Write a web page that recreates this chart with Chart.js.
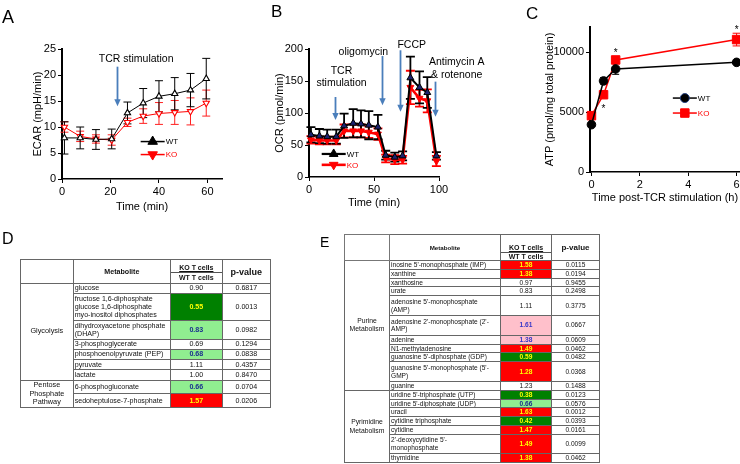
<!DOCTYPE html>
<html><head><meta charset="utf-8">
<script src="https://cdn.jsdelivr.net/npm/chart.js@4.4.1/dist/chart.umd.min.js"></script>
<style>
html,body{margin:0;padding:0;background:#fff;}
body{width:740px;height:464px;overflow:hidden;position:relative;font-family:'Liberation Sans',Arial,Helvetica,sans-serif;color:#000;}
canvas{position:absolute;top:0;}
.lbl{position:absolute;line-height:1;color:#000;will-change:transform;}
table{position:absolute;border-collapse:collapse;table-layout:fixed;color:#111;will-change:transform;background:transparent;}
td,th{overflow:hidden;box-sizing:border-box;}
.nm{white-space:pre-line;text-align:left;}
.grp{white-space:pre-line;text-align:center;vertical-align:middle;}
.val,.pv{text-align:center;vertical-align:middle;}
.hl{font-weight:bold;}
th{font-weight:bold;text-align:center;vertical-align:middle;padding:0;}
.ko{display:flex;align-items:flex-end;justify-content:center;border-bottom:1px solid #555;}
.ko span{text-decoration:underline;}
.wt{text-align:center;}
#tD{left:20px;top:259px;width:250px;font-size:7.1px;border:1.5px solid #333;}
#tD td{border:1px solid #666;padding:0.4px 1px;line-height:8.4px;}
#tD th{border:1px solid #666;height:23px;}
#tD th.mh{font-size:7.1px;}
#tD th.ph{font-size:9px;}
#tD .ko{height:12px;font-size:7px;line-height:8px;}
#tD .wt{height:10px;font-size:7px;line-height:10px;}
#tD .grp{font-size:7.3px;line-height:8.6px;}
#tE{left:344px;top:234px;width:255px;font-size:6.6px;border:1.5px solid #333;}
#tE td{border:1px solid #666;padding:0 1px;line-height:7.8px;}
#tE tr.dbl td.nm,#tE tr.dbl td.val,#tE tr.dbl td.pv{padding:1.6px 1px;}
#tE th{border:1px solid #666;height:25px;}
#tE th.corner{border:1.6px solid #777;}
#tE th.mh{font-size:6.2px;}
#tE th.ph{font-size:8px;}
#tE .ko{height:17px;font-size:7px;line-height:8px;}
#tE .wt{height:7px;font-size:7px;line-height:7px;}
#tE .grp{font-size:6.8px;line-height:8.2px;}
</style></head>
<body>
<div class="lbl" style="left:2px;top:8px;font-size:18px">A</div>
<div class="lbl" style="left:271px;top:3px;font-size:17px">B</div>
<div class="lbl" style="left:526px;top:5px;font-size:17px">C</div>
<div class="lbl" style="left:2px;top:231px;font-size:16px">D</div>
<div class="lbl" style="left:320px;top:235px;font-size:14px">E</div>
<canvas id="cA" width="240" height="225" style="left:0"></canvas>
<canvas id="cB" width="260" height="225" style="left:240px"></canvas>
<canvas id="cC" width="270" height="225" style="left:480px"></canvas>
<table id="tD"></table>
<table id="tE"></table>
<script>
// ---------- Panel A data (ECAR) ----------
const seriesNames = ['WT', 'KO'];
const timeA = [1, 7.5, 14, 20.5, 27, 33.5, 40, 46.5, 53, 59.5];
const wtA = [7.9, 7.9, 7.6, 7.7, 12.7, 14.6, 15.9, 16.4, 17.1, 19.3];
const wtErrA = [3.1, 2.1, 1.9, 1.9, 2.1, 2.8, 3.0, 3.1, 3.2, 3.9];
const koA = [10.0, 8.2, 7.7, 7.5, 10.9, 12.1, 12.6, 12.8, 13.0, 14.6];
const koErrA = [1.0, 1.0, 0.8, 1.0, 0.8, 1.4, 2.1, 2.3, 2.6, 2.5];
const xTicksA = [0, 20, 40, 60];
const yTicksA = [0, 5, 10, 15, 20, 25];
const eventLabelsA = [['TCR stimulation']];
const eventTimesA = [22.8];

// ---------- Panel B data (OCR) ----------
const timeB = [1.5, 8, 14, 21, 27, 34, 40, 46, 53, 59, 66, 72, 78, 85, 91, 98];
const wtB = [66, 64, 63, 63, 80, 84, 83, 81, 78, 34, 31, 33, 155, 140, 132, 33];
const wtErrB = [12, 11, 11, 11, 19, 22, 21, 22, 19, 7, 7, 7, 33, 25, 24, 6];
const koB = [58, 57, 57, 57, 72, 72, 72, 70, 67, 29, 27, 27, 140, 123, 119, 25];
const koErrB = [6, 6, 6, 6, 10, 10, 10, 9, 9, 6, 7, 6, 26, 13, 18, 8];
const xTicksB = [0, 50, 100];
const yTicksB = [0, 50, 100, 150, 200];
const eventLabelsB = [['TCR', 'stimulation'], ['oligomycin'], ['FCCP'], ['Antimycin A', '& rotenone']];
const eventTimesB = [20, 56, 70, 97];

// ---------- Panel C data (ATP) ----------
const timeC = [0, 0.5, 1, 6];
const wtC = [3950, 7600, 8600, 9150];
const wtErrC = [0, 280, 450, 0];
const koC = [4700, 6450, 9350, 11050];
const koErrC = [0, 0, 0, 530];
const sigTimesC = [0.5, 1, 6];
const xTicksC = [0, 2, 4, 6];
const yTicksC = [0, 5000, 10000];

// ---------- Panel D data ----------
const groupsD = ['Glycolysis', 'Pentose\nPhosphate\nPathway'];
const groupCountsD = [7, 2];
const metabolitesD = ['glucose', 'fructose 1,6-diphosphate\nglucose 1,6-diphosphate\nmyo-inositol diphosphates',
  'dihydroxyacetone phosphate\n(DHAP)', '3-phosphoglycerate', 'phosphoenolpyruvate (PEP)', 'pyruvate', 'lactate',
  '6-phosphogluconate', 'sedoheptulose-7-phosphate'];
const ratioD = [0.90, 0.55, 0.83, 0.69, 0.68, 1.11, 1.00, 0.66, 1.57];
const pvalD = [0.6817, 0.0013, 0.0982, 0.1294, 0.0838, 0.4357, 0.8470, 0.0704, 0.0206];

// ---------- Panel E data ----------
const groupsE = ['Purine\nMetabolism', 'Pyrimidine\nMetabolism'];
const groupCountsE = [11, 7];
const metabolitesE = ["inosine 5'-monophosphate (IMP)", "xanthine", "xanthosine", "urate",
  "adenosine 5'-monophosphate\n(AMP)", "adenosine 2'-monophosphate (2'-\nAMP)", "adenine", "N1-methyladenosine",
  "guanosine 5'-diphosphate (GDP)", "guanosine 5'-monophosphate (5'-\nGMP)", "guanine",
  "uridine 5'-triphosphate (UTP)", "uridine 5'-diphosphate (UDP)", "uracil", "cytidine triphosphate", "cytidine",
  "2'-deoxycytidine 5'-\nmonophosphate", "thymidine"];
const ratioE = [1.58, 1.38, 0.97, 0.83, 1.11, 1.61, 1.38, 1.49, 0.59, 1.28, 1.23, 0.38, 0.66, 1.63, 0.42, 1.47, 1.49, 1.38];
const pvalE = [0.0115, 0.0194, 0.9455, 0.2498, 0.3775, 0.0667, 0.0609, 0.0462, 0.0482, 0.0368, 0.1488, 0.0123, 0.0576, 0.0012, 0.0393, 0.0161, 0.0099, 0.0462];
const headerLabels = ['Metabolite', 'KO T cells', 'WT T cells', 'p-value'];

// ================= drawing =================
Chart.defaults.font.family = "'Liberation Sans', Arial, Helvetica, sans-serif";
Chart.defaults.color = '#000';

function pts(xs, ys) { return xs.map((x, i) => ({ x: x, y: ys[i] })); }

function marker(ctx, style, x, y, r, rot, fill, stroke, bw) {
  ctx.save();
  ctx.fillStyle = fill; ctx.strokeStyle = stroke; ctx.lineWidth = bw;
  ctx.beginPath();
  if (style === 'triangle') {
    let a = (rot || 0) * Math.PI / 180;
    ctx.moveTo(x + Math.sin(a) * r, y - Math.cos(a) * r);
    a += 2 * Math.PI / 3; ctx.lineTo(x + Math.sin(a) * r, y - Math.cos(a) * r);
    a += 2 * Math.PI / 3; ctx.lineTo(x + Math.sin(a) * r, y - Math.cos(a) * r);
    ctx.closePath();
  } else if (style === 'rect') {
    const s = r * Math.SQRT1_2; ctx.rect(x - s, y - s, 2 * s, 2 * s);
  } else {
    ctx.arc(x, y, r, 0, Math.PI * 2);
  }
  ctx.fill(); if (bw > 0) ctx.stroke();
  ctx.restore();
}

const errorBarPlugin = {
  id: 'errbars',
  beforeDatasetsDraw(chart) {
    const ctx = chart.ctx, ys = chart.scales.y;
    for (let di = chart.data.datasets.length - 1; di >= 0; di--) {
      const ds = chart.data.datasets[di];
      if (!ds.errors) continue;
      const meta = chart.getDatasetMeta(di);
      ctx.save(); ctx.strokeStyle = ds.errorColor; ctx.lineWidth = ds.errorWidth;
      meta.data.forEach((pt, i) => {
        const e = ds.errors[i]; if (!e) return;
        const v = ds.data[i].y;
        const yt = ys.getPixelForValue(v + e), yb = ys.getPixelForValue(v - e);
        const x = pt.x, c = ds.capWidth / 2;
        ctx.beginPath();
        ctx.moveTo(x, yt); ctx.lineTo(x, yb);
        ctx.moveTo(x - c, yt); ctx.lineTo(x + c, yt);
        ctx.moveTo(x - c, yb); ctx.lineTo(x + c, yb);
        ctx.stroke();
      });
      ctx.restore();
    }
  }
};

const notesPlugin = {
  id: 'notes',
  afterDraw(chart, args, o) {
    const ctx = chart.ctx, xs = chart.scales.x, ys = chart.scales.y;
    ctx.save();
    (o.arrows || []).forEach(a => {
      const x = Math.round(xs.getPixelForValue(a.x)) + 0.5;
      const y1 = ys.getPixelForValue(a.from), y2 = ys.getPixelForValue(a.to);
      ctx.strokeStyle = '#4a7ebb'; ctx.fillStyle = '#4a7ebb'; ctx.lineWidth = 1.8;
      ctx.beginPath(); ctx.moveTo(x, y1); ctx.lineTo(x, y2 - 6); ctx.stroke();
      ctx.beginPath(); ctx.moveTo(x - 3.2, y2 - 7); ctx.lineTo(x + 3.2, y2 - 7); ctx.lineTo(x, y2); ctx.closePath(); ctx.fill();
    });
    (o.texts || []).forEach(t => {
      ctx.fillStyle = t.color || '#000';
      ctx.font = (t.size || 10.5) + "px 'Liberation Sans', Arial, sans-serif";
      ctx.textAlign = 'center'; ctx.textBaseline = 'middle';
      const x = xs.getPixelForValue(t.x), y = ys.getPixelForValue(t.y);
      t.lines.forEach((ln, i) => ctx.fillText(ln, x, y + i * (t.lh || 12.5)));
    });
    (o.legend || []).forEach(l => {
      const x = xs.getPixelForValue(l.x), y = ys.getPixelForValue(l.y);
      ctx.strokeStyle = l.color; ctx.lineWidth = l.lw;
      ctx.beginPath(); ctx.moveTo(x - 12, y); ctx.lineTo(x + 12, y); ctx.stroke();
      marker(ctx, l.style, x, y, l.r, l.rot, l.fill, l.stroke, l.bw);
      ctx.fillStyle = l.color;
      ctx.font = (l.size || 8) + "px 'Liberation Sans', Arial, sans-serif";
      ctx.textAlign = 'left'; ctx.textBaseline = 'middle';
      ctx.fillText(l.label, x + 13, y + 0.5);
    });
    ctx.restore();
  }
};

function makeChart(id, c) {
  const scale = (min, max, ticks, title, fitKey, fitVal, bw) => ({
    type: 'linear', min: min, max: max,
    afterBuildTicks: s => { s.ticks = ticks.map(v => ({ value: v })); },
    afterFit: s => { s[fitKey] = fitVal; },
    grid: { drawOnChartArea: false, drawTicks: true, tickLength: 4, color: '#000', lineWidth: 1 },
    border: { display: true, color: '#000', width: bw },
    ticks: { color: '#000', font: { size: 11 }, padding: 2, maxRotation: 0, autoSkip: false, callback: v => String(v) },
    title: { display: true, text: title, color: '#000', font: { size: 11 }, padding: { top: 4, bottom: 4 } }
  });
  return new Chart(document.getElementById(id), {
    type: 'line',
    data: { datasets: c.datasets },
    options: {
      responsive: false, animation: false, devicePixelRatio: 1,
      layout: { padding: c.padding },
      plugins: { legend: { display: false }, tooltip: { enabled: false }, notes: c.notes },
      scales: {
        x: scale(c.xMin, c.xMax, c.xTicks, c.xTitle, 'height', c.xHeight, c.xBorder),
        y: scale(c.yMin, c.yMax, c.yTicks, c.yTitle, 'width', c.yWidth, c.yBorder)
      }
    },
    plugins: [errorBarPlugin, notesPlugin]
  });
}

// ----- A -----
makeChart('cA', {
  datasets: [
    { label: seriesNames[0], data: pts(timeA, wtA), borderColor: '#000', borderWidth: 1, tension: 0, clip: false,
      pointStyle: 'triangle', pointRadius: 3.6, pointBackgroundColor: '#fff', pointBorderColor: '#000', pointBorderWidth: 1.1,
      errors: wtErrA, errorColor: '#000', errorWidth: 1, capWidth: 8 },
    { label: seriesNames[1], data: pts(timeA, koA), borderColor: '#ff0000', borderWidth: 1, tension: 0, clip: false,
      pointStyle: 'triangle', pointRotation: 180, pointRadius: 3.6, pointBackgroundColor: '#fff', pointBorderColor: '#ff0000', pointBorderWidth: 1.1,
      errors: koErrA, errorColor: '#ff2020', errorWidth: 1, capWidth: 8 }
  ],
  xMin: 0, xMax: 66, xTicks: xTicksA, xTitle: 'Time (min)', xHeight: 39, xBorder: 1.5,
  yMin: 0, yMax: 25, yTicks: yTicksA, yTitle: 'ECAR (mpH/min)', yWidth: 35, yBorder: 2,
  padding: { left: 27, top: 49, right: 18, bottom: 7 },
  notes: {
    arrows: [{ x: eventTimesA[0], from: 21.6, to: 14.0 }],
    texts: [{ x: 30.6, y: 23.1, lines: eventLabelsA[0], size: 10.5 }],
    legend: [
      { x: 37.4, y: 7.2, label: seriesNames[0], color: '#000', lw: 1.5, style: 'triangle', rot: 0, r: 5.5, fill: '#000', stroke: '#000', bw: 1 },
      { x: 37.4, y: 4.7, label: seriesNames[1], color: '#ff0000', lw: 1.5, style: 'triangle', rot: 180, r: 5.5, fill: '#ff0000', stroke: '#ff0000', bw: 1 }
    ]
  }
});

// ----- B -----
makeChart('cB', {
  datasets: [
    { label: seriesNames[0], data: pts(timeB, wtB), borderColor: '#000', borderWidth: 2, tension: 0, clip: false,
      pointStyle: 'triangle', pointRadius: 4, pointBackgroundColor: '#1c2270', pointBorderColor: '#000', pointBorderWidth: 1,
      errors: wtErrB, errorColor: '#000', errorWidth: 1.8, capWidth: 9 },
    { label: seriesNames[1], data: pts(timeB, koB), borderColor: '#ff0000', borderWidth: 2.6, tension: 0, clip: false,
      pointStyle: 'triangle', pointRotation: 180, pointRadius: 4, pointBackgroundColor: '#ff0000', pointBorderColor: '#ff0000', pointBorderWidth: 1,
      errors: koErrB, errorColor: '#ff0000', errorWidth: 1.8, capWidth: 9 }
  ],
  xMin: 0, xMax: 100, xTicks: xTicksB, xTitle: 'Time (min)', xHeight: 37, xBorder: 1.5,
  yMin: 0, yMax: 200, yTicks: yTicksB, yTitle: 'OCR (pmol/min)', yWidth: 40, yBorder: 2,
  padding: { left: 29, top: 49, right: 61, bottom: 11 },
  notes: {
    arrows: [
      { x: eventTimesB[0], from: 125, to: 89 },
      { x: eventTimesB[1], from: 189, to: 112 },
      { x: eventTimesB[2], from: 198, to: 102 },
      { x: eventTimesB[3], from: 149, to: 94 }
    ],
    texts: [
      { x: 25, y: 165.6, lines: eventLabelsB[0], lh: 12.4 },
      { x: 41.8, y: 195.8, lines: eventLabelsB[1] },
      { x: 79, y: 206, lines: eventLabelsB[2] },
      { x: 113.6, y: 180.2, lines: eventLabelsB[3], lh: 13 }
    ],
    legend: [
      { x: 19, y: 36, label: seriesNames[0], color: '#000', lw: 2.2, style: 'triangle', rot: 0, r: 5, fill: '#000', stroke: '#000', bw: 1 },
      { x: 19, y: 19, label: seriesNames[1], color: '#ff0000', lw: 2.6, style: 'triangle', rot: 180, r: 5, fill: '#ff0000', stroke: '#ff0000', bw: 1 }
    ]
  }
});

// ----- C -----
makeChart('cC', {
  datasets: [
    { label: seriesNames[0], data: pts(timeC, wtC), borderColor: '#000', borderWidth: 1.5, tension: 0, clip: false,
      pointStyle: 'circle', pointRadius: 4.3, pointBackgroundColor: '#000', pointBorderColor: '#000', pointBorderWidth: 1,
      errors: wtErrC, errorColor: '#000', errorWidth: 1, capWidth: 7 },
    { label: seriesNames[1], data: pts(timeC, koC), borderColor: '#ff0000', borderWidth: 1.5, tension: 0, clip: false,
      pointStyle: 'rect', pointRadius: 6, pointBackgroundColor: '#ff0000', pointBorderColor: '#ff0000', pointBorderWidth: 1,
      errors: koErrC, errorColor: '#ff0000', errorWidth: 1, capWidth: 8 }
  ],
  xMin: -0.06, xMax: 6.14, xTicks: xTicksC, xTitle: 'Time post-TCR stimulation (h)', xHeight: 37, xBorder: 1.5,
  yMin: 0, yMax: 12100, yTicks: yTicksC, yTitle: 'ATP (pmol/mg total protein)', yWidth: 51, yBorder: 2,
  padding: { left: 59, top: 27, right: 10, bottom: 16 },
  notes: {
    texts: [
      { x: sigTimesC[0], y: 5250, lines: ['*'], size: 10 },
      { x: sigTimesC[1], y: 9870, lines: ['*'], size: 10 },
      { x: sigTimesC[2], y: 11820, lines: ['*'], size: 10 }
    ],
    legend: [
      { x: 3.86, y: 6170, label: seriesNames[0], color: '#000', lw: 1.5, style: 'circle', r: 4.5, fill: '#000', stroke: '#223f80', bw: 1 },
      { x: 3.86, y: 4920, label: seriesNames[1], color: '#ff0000', lw: 1.5, style: 'rect', r: 6, fill: '#ff0000', stroke: '#ff0000', bw: 1 }
    ]
  }
});

// ================= tables =================
function shade(r, p) {
  if (p < 0.05) return r < 1 ? ['#008000', '#ffff00'] : ['#ff0000', '#ffff00'];
  if (p < 0.1) return r < 1 ? ['#90ee90', '#1a2f8f'] : ['#ffc0cb', '#3636c8'];
  return null;
}
function esc(s) { return s.replace(/&/g, '&amp;').replace(/</g, '&lt;'); }
function buildTable(id, widths, groups, counts, names, ratios, pvals) {
  let h = '<colgroup>' + widths.map(w => '<col style="width:' + w + 'px">').join('') + '</colgroup>';
  h += '<tr><th class="corner"></th><th class="mh">' + headerLabels[0] + '</th>' +
    '<th><div class="ko"><span>' + headerLabels[1] + '</span></div><div class="wt">' + headerLabels[2] + '</div></th>' +
    '<th class="ph">' + headerLabels[3] + '</th></tr>';
  let idx = 0;
  groups.forEach((g, gi) => {
    for (let k = 0; k < counts[gi]; k++) {
      const i = idx++;
      const sh = shade(ratios[i], pvals[i]);
      const dbl = names[i].indexOf('\n') >= 0;
      h += '<tr' + (dbl ? ' class="dbl"' : '') + '>';
      if (k === 0) h += '<td class="grp" rowspan="' + counts[gi] + '">' + esc(g) + '</td>';
      h += '<td class="nm">' + esc(names[i]) + '</td>';
      h += '<td class="val' + (sh ? ' hl' : '') + '"' + (sh ? ' style="background:' + sh[0] + ';color:' + sh[1] + '"' : '') + '>' + ratios[i].toFixed(2) + '</td>';
      h += '<td class="pv">' + pvals[i].toFixed(4) + '</td></tr>';
    }
  });
  document.getElementById(id).innerHTML = h;
}
buildTable('tD', [52.7, 97.3, 51.7, 48.3], groupsD, groupCountsD, metabolitesD, ratioD, pvalD);
buildTable('tE', [45, 111, 51, 48], groupsE, groupCountsE, metabolitesE, ratioE, pvalE);
</script>
</body></html>
